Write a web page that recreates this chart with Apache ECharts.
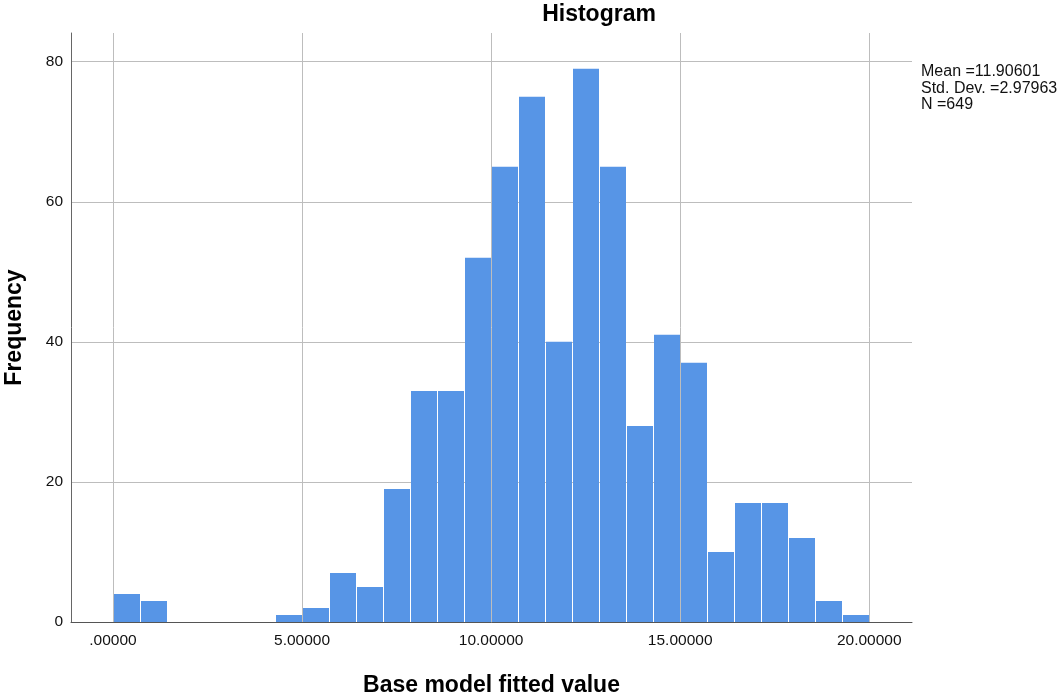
<!DOCTYPE html>
<html><head><meta charset="utf-8">
<script src="https://cdn.jsdelivr.net/npm/echarts@6/dist/echarts.min.js"></script>
<style>html,body{margin:0;padding:0;background:#fff;overflow:hidden}#c{width:1060px;height:694px}</style>
</head><body><div id="c"></div>
<script>
// Histogram data: 28 bins of equal width over [0, 20]
const binCount = 28;
const rangeMin = 0;
const rangeMax = 20;
const counts = [4, 3, 0, 0, 0, 0, 1, 2, 7, 5, 19, 33, 33, 52, 65, 75, 40, 79, 65, 28, 41, 37, 10, 17, 17, 12, 3, 1];
const xTicks = [0, 5, 10, 15, 20];
const xTickLabels = ['.00000', '5.00000', '10.00000', '15.00000', '20.00000'];
const yTicks = [0, 20, 40, 60, 80];
const statsLines = ['Mean =11.90601', 'Std. Dev. =2.97963', 'N =649'];
const titleText = 'Histogram';
const xName = 'Base model fitted value';
const yName = 'Frequency';

const binWidth = (rangeMax - rangeMin) / binCount;
const histData = counts.map((c, i) => [rangeMin + i * binWidth, rangeMin + (i + 1) * binWidth, c]);

const FONT = '"Liberation Sans", Arial, sans-serif';
const chart = echarts.init(document.getElementById('c'), null, {renderer: 'canvas'});
chart.setOption({
  animation: false,
  backgroundColor: '#fff',
  grid: {left: 71, right: 148, top: 33, bottom: 72, containLabel: false, outerBoundsMode: 'none'},
  xAxis: {
    type: 'value', min: -1.11, max: 21.13,
    axisLine: {show: true, onZero: false, lineStyle: {color: '#555', width: 1}},
    axisTick: {show: false, customValues: xTicks},
    axisLabel: {
      customValues: xTicks, margin: 11, color: '#111', fontSize: 15.5, fontFamily: FONT,
      formatter: v => xTickLabels[xTicks.indexOf(Math.round(v))] || ''
    },
    splitLine: {show: true, lineStyle: {color: '#bdbdbd', width: 1}},
    name: xName, nameLocation: 'middle', nameGap: 52,
    nameTextStyle: {fontSize: 23, fontWeight: 'bold', color: '#000', fontFamily: FONT}
  },
  yAxis: {
    type: 'value', min: 0, max: 84.1,
    axisLine: {show: true, onZero: false, lineStyle: {color: '#666', width: 1}},
    axisTick: {show: false, customValues: yTicks},
    axisLabel: {customValues: yTicks, margin: 8, color: '#111', fontSize: 15.5, fontFamily: FONT},
    splitLine: {show: true, lineStyle: {color: '#bdbdbd', width: 1}},
    name: yName, nameLocation: 'middle', nameGap: 45, nameRotate: 90,
    nameTextStyle: {fontSize: 23, fontWeight: 'bold', color: '#000', fontFamily: FONT}
  },
  graphic: [
    {type: 'text', x: 599, y: 15, style: {text: titleText, font: 'bold 23px ' + FONT, fill: '#000', align: 'center', verticalAlign: 'middle'}},
    ...statsLines.map((t, i) => ({type: 'text', x: 921, y: 72 + i * 16.5, style: {text: t, font: '16px ' + FONT, fill: '#111', align: 'left', verticalAlign: 'middle'}}))
  ],
  series: [{
    type: 'custom',
    data: histData,
    encode: {x: [0, 1], y: 2},
    renderItem: (params, api) => {
      const x0 = api.value(0), x1 = api.value(1), y = api.value(2);
      if (!y) return null;
      const p0 = api.coord([x0, y]);
      const p1 = api.coord([x1, 0]);
      const left = Math.round(p0[0]);
      const right = Math.round(p1[0]);
      return {
        type: 'rect',
        shape: {x: left + 1, y: p0[1], width: right - left - 1, height: p1[1] - p0[1]},
        style: {fill: '#5795e6'}
      };
    }
  }]
});
</script></body></html>
